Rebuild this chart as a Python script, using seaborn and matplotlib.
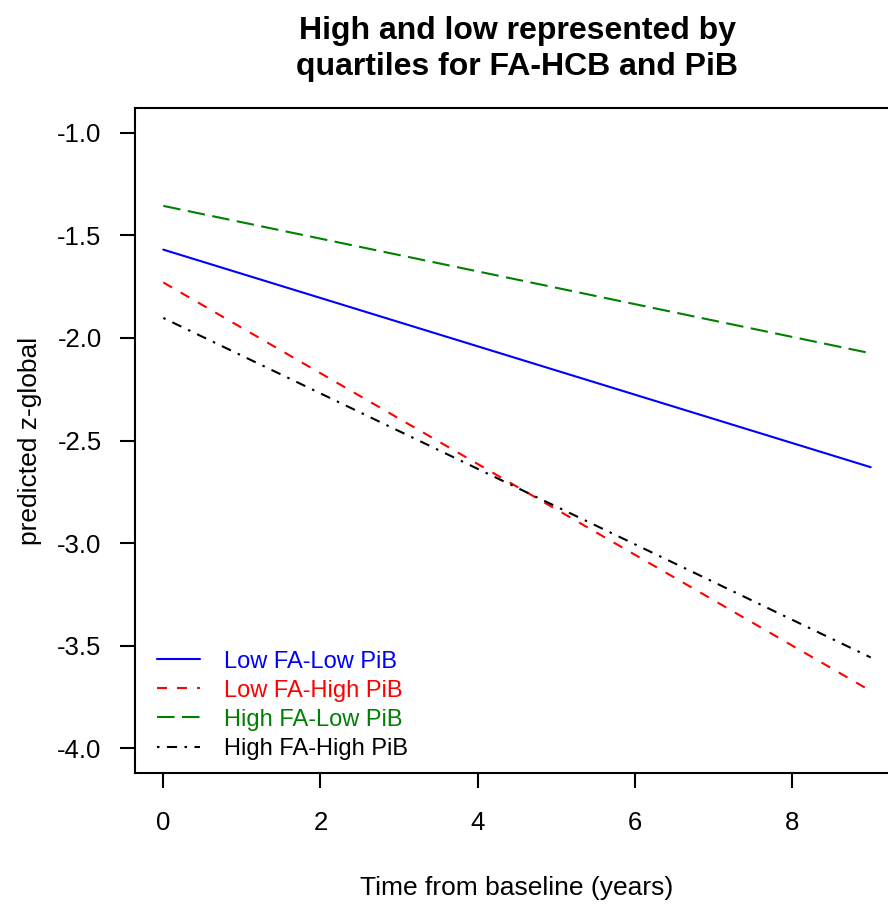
import numpy as np
import pandas as pd
import matplotlib
matplotlib.use("Agg")
import matplotlib.pyplot as plt
import seaborn as sns
from matplotlib.lines import Line2D

groups = ["Low FA-Low PiB", "Low FA-High PiB", "High FA-Low PiB", "High FA-High PiB"]
time_points = [0, 9]
start_values = [-1.57, -1.73, -1.357, -1.903]
end_values = [-2.63, -3.72, -2.075, -3.557]
colors = ["#0000FF", "#FF0000", "#008000", "#000000"]
dash_styles = [None, (4.8, 4.8), (8.4, 3.6), (1.2, 3.6, 4.8, 3.6)]

rows = []
for g, s, e in zip(groups, start_values, end_values):
    rows.append({"time": time_points[0], "z": s, "group": g})
    rows.append({"time": time_points[1], "z": e, "group": g})
df = pd.DataFrame(rows)

sns.set_style("white")
plt.rcParams['font.family'] = ['Liberation Sans', 'DejaVu Sans']
plt.rcParams['text.color'] = 'black'
plt.rcParams['axes.labelcolor'] = 'black'

fig = plt.figure(figsize=(8.88, 9.06), dpi=100)
W, H = 888, 906
ax = fig.add_axes([135 / W, 1 - 773 / H, (899 - 135) / W, (773 - 108) / H])

dashes = {g: ("" if d is None else d) for g, d in zip(groups, dash_styles)}
sns.lineplot(data=df, x="time", y="z", hue="group", style="group",
             palette=dict(zip(groups, colors)), dashes=dashes,
             linewidth=1.5, ax=ax, legend=False)

ax.set_xlim(-0.36, 9.36)
ax.set_ylim(-4.12, -0.88)
ax.set_xticks([0, 2, 4, 6, 8])
ax.set_yticks([-1.0, -1.5, -2.0, -2.5, -3.0, -3.5, -4.0])
ax.set_yticklabels(["-1.0", "-1.5", "-2.0", "-2.5", "-3.0", "-3.5", "-4.0"])
for sp in ax.spines.values():
    sp.set_visible(True)
    sp.set_linewidth(1.5)
    sp.set_color("black")
ax.tick_params(axis="both", direction="out", length=11, width=1.5,
               colors="black", labelsize=18.5, left=True, bottom=True)
ax.tick_params(axis="y", pad=13)
ax.tick_params(axis="x", pad=16)
ax.set_xlabel("Time from baseline (years)", fontsize=19, labelpad=30)
ax.set_ylabel("predicted z-global", fontsize=19, labelpad=11)
ax.set_title("High and low represented by\nquartiles for FA-HCB and PiB",
             fontsize=23, fontweight="bold", pad=24, linespacing=1.25)

handles = [Line2D([0], [0], color=c, lw=1.5,
                  linestyle="-" if d is None else (0, d))
           for c, d in zip(colors, dash_styles)]
leg = ax.legend(handles, groups, loc="lower left", frameon=False, fontsize=17,
                labelcolor=colors, handlelength=1.83, handletextpad=0.98,
                labelspacing=0.3, borderpad=0.4, borderaxespad=0.54,
                bbox_to_anchor=(0.0, -0.0135))

fig.savefig("out.png", dpi=100)
